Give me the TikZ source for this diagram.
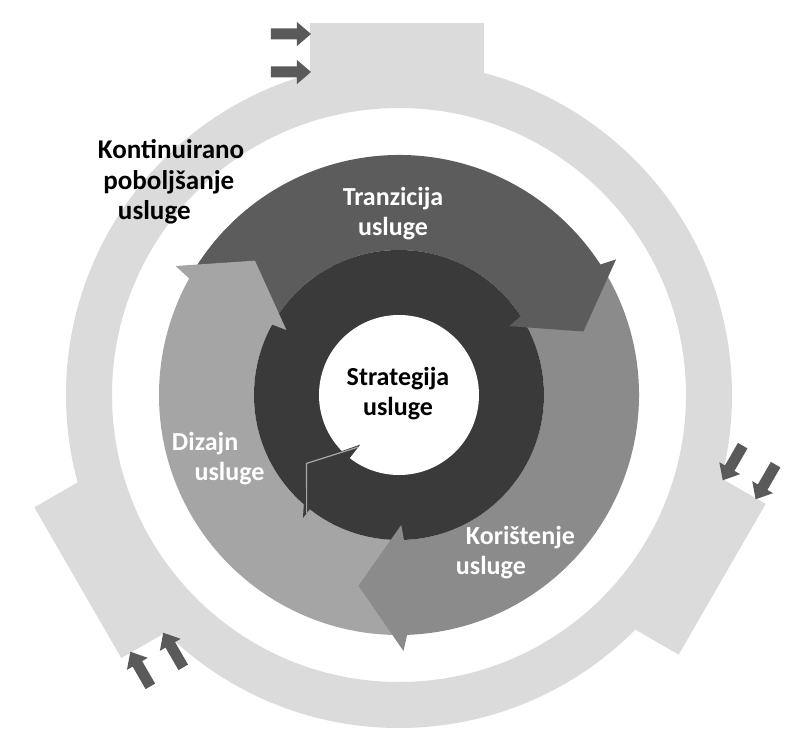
\documentclass[tikz,border=0pt]{standalone}
\usepackage{fontspec}
\setmainfont{Carlito}
\definecolor{outerc}{HTML}{DBDBDB}
\definecolor{tranc}{HTML}{5C5C5C}
\definecolor{korc}{HTML}{8B8B8B}
\definecolor{dizc}{HTML}{A5A5A5}
\definecolor{darkc}{HTML}{3A3A3A}
\definecolor{arrc}{HTML}{5A5A5A}
\definecolor{lightline}{HTML}{A8A8A8}
\begin{document}
\begin{tikzpicture}[x=0.75pt,y=0.75pt,
  lbl/.style={font=\fontsize{19.5}{22.5}\selectfont\bfseries, inner sep=0pt, outer sep=0pt},
  whitelbl/.style={lbl, text=white},
  blacklbl/.style={lbl, text=black},
  smallarr/.style={fill=arrc},
  tabshape/.style={fill=outerc}
]
\fill[white] (-399,-345) rectangle (395,395);
\useasboundingbox (-399,-345) rectangle (395,395);

% outer ring with three tabs and small arrows
\fill[outerc, even odd rule] (0,0) circle (333) (0,0) circle (287);
\foreach \r in {0,-120,120}{
  \begin{scope}[rotate=\r]
    \fill[tabshape] (-89,300) -- (85,300) -- (85,372) -- (-89,372) -- cycle;
    \foreach \c in {361,323}{
      \fill[smallarr] (-128,\c-5.5) -- (-102,\c-5.5) -- (-102,\c-12) -- (-88,\c)
        -- (-102,\c+12) -- (-102,\c+5.5) -- (-128,\c+5.5) -- cycle;
    }
  \end{scope}
}

% middle ring bodies (each runs 1 degree under its own head to avoid seams)
\fill[dizc] (-89:240) arc[start angle=-89,end angle=-211,radius=240] -- (-211:145)
  arc[start angle=-211,end angle=-89,radius=145] -- cycle;
\fill[korc] (32:240) arc[start angle=32,end angle=-90,radius=240] -- (-90:145)
  arc[start angle=-90,end angle=32,radius=145] -- cycle;
\fill[tranc] (150:240) arc[start angle=150,end angle=31,radius=240] -- (31:145)
  arc[start angle=31,end angle=150,radius=145] -- cycle;

% inner dark ring
\fill[darkc] (0,0) circle (145);
\fill[white] (0,0) circle (80);
\fill[darkc] (232:156) -- (216.5:115) -- (232:63) -- cycle;
\draw[lightline, line width=0.9pt] (232:150) -- (216.5:115) -- (232:66);

% middle ring arrow heads (with a small overlap back into their own body)
\fill[tranc] (33:146) -- (32:130) -- (19:195) -- (32:256) -- (33:239) -- cycle;
\fill[korc] (-88:146) -- (-89:130) -- (-102:195) -- (-89:256) -- (-88:239) -- cycle;
\fill[dizc] (151:146) -- (150:130) -- (137:197) -- (150:258) -- (151:239) -- cycle;

% labels
\node[blacklbl, font=\fontsize{20.3}{23}\selectfont\bfseries, anchor=west, align=left] (kont) at (-301,213)
  {Kontinuirano\\\hspace*{4pt}poboljšanje\\\hspace*{15pt}usluge};
\node[whitelbl, align=center] (tran) at (-6,181) {Tranzicija\\usluge};
\node[blacklbl, align=center] (strat) at (-1,1) {Strategija\\usluge};
\node[whitelbl, anchor=west, align=left] (diz) at (-227,-64)
  {Dizajn\\\hspace*{17pt}usluge};
\node[whitelbl, anchor=west, align=left] (kor) at (57,-158)
  {\hspace*{7.5pt}Korištenje\\usluge};
\end{tikzpicture}
\end{document}
